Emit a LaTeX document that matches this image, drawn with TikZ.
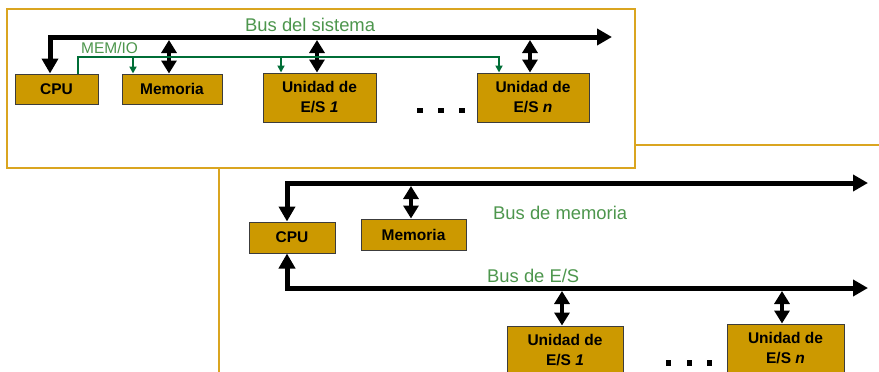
\documentclass[tikz,border=0pt]{standalone}
\usepackage{fontspec}
\setmainfont{Liberation Sans}
\usetikzlibrary{arrows.meta}
\definecolor{boxfill}{RGB}{204,153,0}
\definecolor{boxline}{RGB}{60,60,60}
\definecolor{framegold}{RGB}{218,165,32}
\definecolor{labelgreen}{RGB}{77,150,77}
\definecolor{sigreen}{RGB}{0,110,55}
\begin{document}
\begin{tikzpicture}[x=1pt,y=-1pt,
  unit/.style={draw=boxline, line width=1pt, fill=boxfill, inner sep=0pt,
    font=\fontsize{15.5}{20}\selectfont\bfseries, align=center},
  buslabel/.style={text=labelgreen, inner sep=0pt, anchor=base west,
    font=\fontsize{18.4}{22}\selectfont},
  ctllabel/.style={text=labelgreen, inner sep=0pt, anchor=base west,
    font=\fontsize{15.5}{18}\selectfont},
  bus/.style={line width=5pt,
    {Triangle[width=16pt,length=15pt]}-{Triangle[width=16pt,length=15pt]}},
  link/.style={line width=4pt,
    {Triangle[width=15pt,length=13pt]}-{Triangle[width=15pt,length=13pt]}},
  ctl/.style={sigreen, line width=2pt},
  ctltip/.style={ctl, -{Triangle[width=7pt,length=7pt]}},
  dotmark/.style={fill=black, minimum size=5.5pt, inner sep=0pt},
  frame/.style={draw=framegold, line width=1.5pt}
]
\useasboundingbox (0,0) rectangle (879,372);

% panels
\draw[framegold, line width=1.2pt] (219,145) rectangle (900,400);
\draw[frame, fill=white] (7,9) rectangle (635,168);

% ---------- system bus organisation ----------
\node[unit, minimum width=83pt, minimum height=30pt]  (cpuA) at (56.5,89) {CPU};
\node[unit, minimum width=100pt, minimum height=30pt] (memA) at (172,89) {Memoria};
\node[unit, minimum width=113pt, minimum height=49pt] (ioA1) at (319.5,97.5) {Unidad de\\E/S \textit{1}};
\node[unit, minimum width=112pt, minimum height=49pt] (ioAn) at (533,97.5) {Unidad de\\E/S \textit{n}};

\node[dotmark] (dA1) at (420,110.5) {};
\node[dotmark] (dA2) at (441,110.5) {};
\node[dotmark] (dA3) at (462,110.5) {};

\coordinate (sysL) at (50,37);
\coordinate (sysR) at (612,37);
\draw[bus] (sysL |- cpuA.north) -- (sysL) -- (sysR);

\coordinate (tA1) at (169,40);
\coordinate (tA2) at (317,40);
\coordinate (tA3) at (530,40);
\draw[link] (tA1) -- (tA1 |- memA.north);
\draw[link] (tA2) -- (tA2 |- ioA1.north);
\draw[link] (tA3) -- (tA3 |- ioAn.north);

\coordinate (gL) at (78,57);
\coordinate (gR) at (499,57);
\coordinate (g1) at (133,57);
\coordinate (g2) at (281,57);
\draw[ctltip] (gL |- cpuA.north) -- (gL) -- (gR) -- (gR |- ioAn.north);
\draw[ctltip] (g1) -- (g1 |- memA.north);
\draw[ctltip] (g2) -- (g2 |- ioA1.north);

\node[buslabel] (lsys) at (245,31.5) {Bus del sistema};
\node[ctllabel] (lmemio) at (81,53) {MEM/IO};

% ---------- separate memory and I/O buses ----------
\node[unit, minimum width=86pt, minimum height=31pt]  (cpuB) at (292,237.5) {CPU};
\node[unit, minimum width=105pt, minimum height=31pt] (memB) at (413.5,234.5) {Memoria};
\node[unit, minimum width=116pt, minimum height=49pt] (ioB1) at (565,350.5) {Unidad de\\E/S \textit{1}};
\node[unit, minimum width=117pt, minimum height=49pt] (ioBn) at (785.5,348.5) {Unidad de\\E/S \textit{n}};

\node[dotmark] (dB1) at (668.5,363) {};
\node[dotmark] (dB2) at (689.5,363) {};
\node[dotmark] (dB3) at (709.5,363) {};

\coordinate (mL) at (287,183);
\coordinate (mR) at (868,183);
\draw[bus] (mL |- cpuB.north) -- (mL) -- (mR);

\coordinate (iL) at (287,288);
\coordinate (iR) at (868,288);
\draw[bus] (iL |- cpuB.south) -- (iL) -- (iR);

\coordinate (tB1) at (411,186);
\coordinate (tB2) at (562,291);
\coordinate (tB3) at (782,291);
\draw[link] (tB1) -- (tB1 |- memB.north);
\draw[link] (tB2) -- (tB2 |- ioB1.north);
\draw[link] (tB3) -- (tB3 |- ioBn.north);

\node[buslabel] (lmem) at (493,219) {Bus de memoria};
\node[buslabel] (lio) at (487,282) {Bus de E/S};
\end{tikzpicture}
\end{document}
